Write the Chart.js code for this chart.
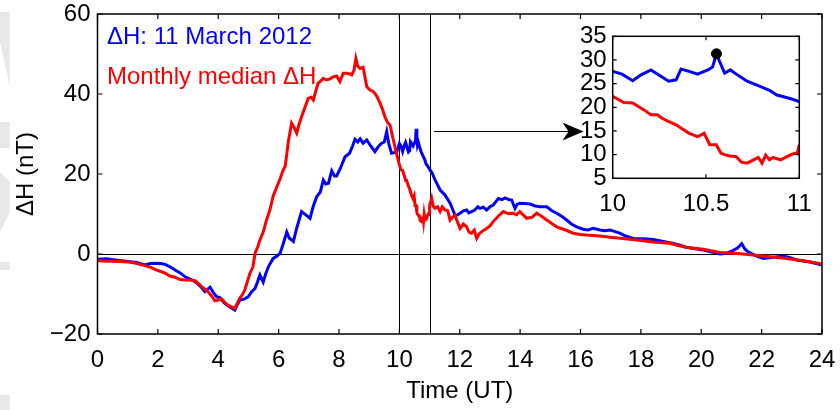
<!DOCTYPE html>
<html><head><meta charset="utf-8">
<script src="https://cdn.jsdelivr.net/npm/chart.js@4.4.0/dist/chart.umd.min.js"></script>
<style>
html,body{margin:0;padding:0;background:#fff;overflow:hidden}
#wrap{position:relative;width:840px;height:410px}
#main{position:absolute;left:0;top:0}
#inset{position:absolute;left:560px;top:15px}
</style></head><body>
<div id="wrap"><canvas id="main" width="840" height="410"></canvas><canvas id="inset" width="260" height="205"></canvas></div>
<script>
// ---- Data (hours UT, nT) ----
const blueT=[0,0.3,0.58,1.02,1.3,1.57,1.75,1.9,2.1,2.24,2.4,2.57,2.75,2.9,3.05,3.23,3.4,3.56,3.65,3.73,3.85,3.95,4.05,4.11,4.2,4.28,4.4,4.55,4.62,4.72,4.85,4.99,5.1,5.22,5.3,5.38,5.49,5.57,5.66,5.75,5.82,5.95,6.05,6.15,6.27,6.35,6.43,6.49,6.6,6.76,6.9,7.04,7.15,7.26,7.38,7.48,7.56,7.65,7.76,7.85,7.92,8.05,8.2,8.35,8.45,8.53,8.62,8.7,8.8,8.92,9.05,9.19,9.3,9.41,9.5,9.58,9.65,9.74,9.85,9.92,10.0,10.05,10.107,10.15,10.205,10.26,10.3,10.34,10.366,10.41,10.455,10.51,10.535,10.556,10.58,10.6,10.63,10.67,10.72,10.79,10.84,10.88,10.955,11.0,11.1,11.18,11.35,11.51,11.68,11.84,11.93,12.01,12.12,12.23,12.3,12.39,12.5,12.6,12.67,12.78,12.89,13.0,13.11,13.28,13.4,13.5,13.62,13.72,13.83,13.9,13.99,14.15,14.33,14.5,14.66,14.88,15.05,15.21,15.4,15.54,15.7,15.87,16.09,16.25,16.42,16.64,16.8,16.98,17.15,17.3,17.5,17.75,18.1,18.41,18.7,18.96,19.25,19.5,19.8,20.07,20.35,20.62,20.85,21.06,21.2,21.34,21.45,21.56,21.8,22.05,22.4,22.72,22.95,23.16,23.6,24.0];
const blueH=[-1.3,-1.2,-1.5,-1.9,-2.1,-2.75,-2.4,-2.3,-2.4,-2.6,-3.2,-4,-4.8,-5.7,-6.2,-6.9,-8,-9.4,-8.8,-8.3,-9.8,-10.7,-10.9,-11.5,-12.2,-12.75,-13.3,-14,-12.8,-11.5,-11.3,-10.7,-9.5,-8.6,-7.0,-5.25,-7.0,-5.0,-3.2,-2.0,-1.1,-0.5,0.2,2.5,5.5,4.0,3.5,3.1,6.5,10.6,9.8,8.9,12.0,14.3,15.5,18.5,17.5,17.7,20.8,19.5,19.5,21.5,24.3,25.2,27.0,28.7,28.0,28.8,27.7,28.5,27.0,25.6,26.8,27.7,28.0,30.6,27.5,25.2,25.4,25.7,27.6,27.0,25.6,26.8,27.9,26.5,25.5,25.8,28.1,27.6,27.0,27.9,28.5,31.3,29.0,27.2,27.9,26.8,25.5,24.4,23.6,22.6,21.8,21.2,20.0,18.5,16.0,14.75,12.7,9.75,9.8,10.2,10.8,11.0,10.3,10.6,11.0,11.8,11.4,11.7,11.0,11.8,12.25,13.9,13.6,14.0,13.6,13.5,11.4,12.4,12.7,12.6,12.5,12.0,11.8,11.8,10.8,10.2,9.3,8.5,7.5,6.8,6.2,6.0,6.4,6.0,5.8,6.0,5.6,5.2,4.5,3.9,3.8,3.6,3.2,2.8,2.3,1.7,1.3,1.0,0.5,0.0,0.2,0.9,1.5,2.6,1.2,0.5,-0.4,-1.1,-0.8,-0.5,-0.9,-1.5,-2.0,-2.75];
const redT=[0,0.4,0.74,1.02,1.2,1.57,1.75,1.96,2.24,2.4,2.57,2.73,2.9,3.05,3.23,3.35,3.45,3.58,3.67,3.78,3.89,4.0,4.11,4.2,4.32,4.45,4.55,4.62,4.71,4.8,4.88,4.96,5.05,5.15,5.22,5.31,5.38,5.49,5.6,5.71,5.82,5.94,6.05,6.15,6.22,6.32,6.43,6.52,6.6,6.68,6.76,6.88,6.98,7.08,7.15,7.24,7.31,7.4,7.48,7.59,7.7,7.81,7.92,8.03,8.14,8.25,8.36,8.42,8.5,8.56,8.62,8.7,8.8,8.92,9.03,9.14,9.25,9.36,9.45,9.52,9.6,9.69,9.8,9.9,10.0,10.06,10.107,10.17,10.205,10.24,10.26,10.295,10.34,10.37,10.41,10.455,10.49,10.52,10.555,10.58,10.6,10.625,10.66,10.69,10.72,10.76,10.78,10.8,10.82,10.84,10.86,10.9,10.95,10.97,10.99,11.0,11.07,11.12,11.18,11.27,11.35,11.42,11.51,11.6,11.68,11.76,11.84,11.93,12.01,12.12,12.23,12.31,12.39,12.48,12.56,12.64,12.73,12.89,13.0,13.11,13.28,13.44,13.6,13.77,13.88,13.99,14.1,14.22,14.4,14.55,14.7,14.88,15.05,15.21,15.5,15.76,16.0,16.2,16.64,16.98,17.4,17.86,18.4,18.96,19.2,19.5,20.07,20.62,21.2,21.72,22.3,22.83,23.4,24.0];
const redH=[-1.7,-1.8,-1.9,-2.0,-2.2,-2.9,-3.3,-4.0,-4.8,-5.5,-5.8,-6.4,-6.5,-6.5,-6.7,-7.4,-8.2,-8.9,-9.5,-10.5,-11.7,-11.5,-11.2,-12.0,-12.8,-13.2,-13.6,-12.5,-11.1,-10.2,-9.0,-7.0,-4.8,-3.2,0.2,1.8,3.5,5.5,8.5,11.0,14.5,16.8,18.8,21.0,22.0,28.0,32.7,31.5,30.2,32.5,34.3,36.8,38.9,39.2,38.5,41.0,42.7,43.3,43.9,43.5,43.8,44.3,44.5,43.1,45.2,45.2,45.0,44.75,46.0,48.9,47.0,46.4,46.7,41.8,41.0,40.6,39.5,37.7,36.0,34.3,33.0,32.2,28.5,25.3,22.3,21.0,20.9,19.4,18.4,18.4,17.8,17.1,16.3,15.5,14.5,13.8,14.5,12.1,12.1,10.3,10.0,9.7,9.6,8.4,8.2,9.0,9.4,8.2,9.9,8.9,9.4,8.9,9.9,10.2,10.4,12.1,13.9,12.0,11.4,11.8,10.6,11.8,11.0,10.8,8.5,9.2,9.75,7.9,6.4,7.5,6.8,5.4,5.2,6.0,3.9,5.0,5.6,6.4,7.0,8.1,9.5,10.6,10.1,10.2,9.8,10.6,9.8,8.9,9.2,10.2,9.5,8.5,7.6,6.8,6.0,5.2,4.9,4.75,4.5,4.2,3.9,3.5,3.0,2.7,2.2,1.7,1.2,0.4,0.1,-0.25,-0.7,-1.1,-1.7,-2.5];
const seriesNames=['ΔH: 11 March 2012','Monthly median ΔH'];
const mainXTicks=[0,2,4,6,8,10,12,14,16,18,20,22,24];
const mainYTicks=[-20,0,20,40,60];
const markTimes=[10,11];          // zoom window edges
const insetXTicks=[10,10.5,11];
const insetYTicks=[5,10,15,20,25,30,35];
const peakT=[10.556], peakH=[31.3];
const arrowT=[11.15,16.1], arrowH=[30.75,30.75];

const FONT='"Liberation Sans", Arial, Helvetica, sans-serif';
const BLUE='#0000ff', RED='#ff0000';
const pts=(t,h)=>t.map((v,i)=>({x:v,y:h[i]}));
const minus=v=>String(v).replace('-', '\u2212');
const noPadX=(h)=>function(s){s.height=h;s.paddingLeft=0;s.paddingRight=0;};
const noPadY=(w)=>function(s){s.width=w;s.paddingTop=0;s.paddingBottom=0;};

function drawFrameTicks(ctx,a,xs,ys,xt,yt,len){
  ctx.save();
  ctx.strokeStyle='#000'; ctx.lineWidth=1.5;
  ctx.strokeRect(a.left,a.top,a.right-a.left,a.bottom-a.top);
  ctx.lineWidth=1.2; ctx.beginPath();
  xt.forEach(v=>{const p=xs.getPixelForValue(v);
    ctx.moveTo(p,a.bottom); ctx.lineTo(p,a.bottom-len);
    ctx.moveTo(p,a.top); ctx.lineTo(p,a.top+len);});
  yt.forEach(v=>{const p=ys.getPixelForValue(v);
    ctx.moveTo(a.left,p); ctx.lineTo(a.left+len,p);
    ctx.moveTo(a.right,p); ctx.lineTo(a.right-len,p);});
  ctx.stroke(); ctx.restore();
}

const mainDeco={
  id:'mainDeco',
  beforeDraw(chart){
    const c=chart.ctx; c.save();
    c.fillStyle='#fff'; c.fillRect(0,0,chart.width,chart.height);
    c.fillStyle='#e8e8e8';
    c.beginPath(); c.moveTo(0,12); c.lineTo(10,12); c.lineTo(10,87); c.lineTo(0,42); c.closePath(); c.fill();
    c.fillRect(0,122,10,26);
    c.beginPath(); c.moveTo(0,172); c.lineTo(10,182); c.lineTo(10,212); c.lineTo(0,232); c.closePath(); c.fill();
    c.fillRect(0,262,10,8);
    c.fillRect(0,395,10,15);
    c.restore();
  },
  beforeDatasetsDraw(chart){
    const {ctx,chartArea:a,scales:{x,y}}=chart;
    ctx.save(); ctx.strokeStyle='#000'; ctx.lineWidth=1; ctx.beginPath();
    const y0=Math.round(y.getPixelForValue(0))+0.5;
    ctx.moveTo(a.left,y0); ctx.lineTo(a.right,y0);
    markTimes.forEach(t=>{const p=Math.round(x.getPixelForValue(t))+0.5; ctx.moveTo(p,a.top); ctx.lineTo(p,a.bottom);});
    ctx.stroke(); ctx.restore();
  },
  afterDatasetsDraw(chart){
    const {ctx,chartArea:a,scales:{x,y}}=chart;
    drawFrameTicks(ctx,a,x,y,mainXTicks,mainYTicks,5);
    // arrow
    const x1=x.getPixelForValue(arrowT[0]), x2=x.getPixelForValue(arrowT[1]);
    const ya=Math.round(y.getPixelForValue(arrowH[0]))+0.5;
    ctx.save(); ctx.strokeStyle='#000'; ctx.fillStyle='#000'; ctx.lineWidth=1;
    ctx.beginPath(); ctx.moveTo(x1,ya); ctx.lineTo(x2-12,ya); ctx.stroke();
    ctx.beginPath(); ctx.moveTo(x2,ya); ctx.lineTo(x2-21,ya-9); ctx.lineTo(x2-15,ya); ctx.lineTo(x2-21,ya+9); ctx.closePath(); ctx.fill();
    // legend texts
    ctx.font='24px '+FONT; ctx.textBaseline='alphabetic'; ctx.textAlign='left';
    ctx.fillStyle=BLUE; ctx.fillText(seriesNames[0],a.left+9.5,a.top+29.5);
    ctx.fillStyle=RED; ctx.fillText(seriesNames[1],a.left+9.5,a.top+69.5);
    ctx.restore();
  }
};

new Chart(document.getElementById('main'),{
  type:'line',
  data:{datasets:[
    {label:seriesNames[1],data:pts(redT,redH),borderColor:RED,borderWidth:3,pointRadius:0,tension:0,fill:false},
    {label:seriesNames[0],data:pts(blueT,blueH),borderColor:BLUE,borderWidth:3,pointRadius:0,tension:0,fill:false}
  ]},
  options:{
    responsive:false,animation:false,devicePixelRatio:1,
    layout:{padding:{top:14,right:18,left:0,bottom:0}},
    plugins:{legend:{display:false},tooltip:{enabled:false}},
    scales:{
      x:{type:'linear',min:0,max:24,
        afterBuildTicks(s){s.ticks=mainXTicks.map(v=>({value:v}));},
        afterFit:noPadX(76),
        grid:{display:false,drawTicks:false},border:{display:false},
        ticks:{color:'#000',font:{family:FONT,size:24,lineHeight:1},padding:14,maxRotation:0,autoSkip:false,callback:v=>String(v)},
        title:{display:true,text:'Time (UT)',color:'#000',font:{family:FONT,size:24,lineHeight:1.2},padding:{top:4,bottom:4}}
      },
      y:{type:'linear',min:-20,max:60,
        afterBuildTicks(s){s.ticks=mainYTicks.map(v=>({value:v}));},
        afterFit:noPadY(97.5),
        grid:{display:false,drawTicks:false},border:{display:false},
        ticks:{color:'#000',font:{family:FONT,size:24,lineHeight:1},padding:7,callback:v=>minus(v)},
        title:{display:true,text:'ΔH (nT)',color:'#000',font:{family:FONT,size:24,lineHeight:1.2},padding:{top:12,bottom:12}}
      }
    }
  },
  plugins:[mainDeco]
});

const insetDeco={
  id:'insetDeco',
  afterDatasetsDraw(chart){
    const {ctx,chartArea:a,scales:{x,y}}=chart;
    drawFrameTicks(ctx,a,x,y,insetXTicks,insetYTicks,4);
  }
};

new Chart(document.getElementById('inset'),{
  type:'line',
  data:{datasets:[
    {data:pts(peakT,peakH),borderColor:'#000',backgroundColor:'#000',pointRadius:5,showLine:false},
    {data:pts(blueT,blueH),borderColor:BLUE,borderWidth:3,pointRadius:0,tension:0,fill:false},
    {data:pts(redT,redH),borderColor:RED,borderWidth:3,pointRadius:0,tension:0,fill:false}
  ]},
  options:{
    responsive:false,animation:false,devicePixelRatio:1,
    layout:{padding:{top:21.3,right:20.7,left:0,bottom:0}},
    plugins:{legend:{display:false},tooltip:{enabled:false}},
    scales:{
      x:{type:'linear',min:10,max:11,
        afterBuildTicks(s){s.ticks=insetXTicks.map(v=>({value:v}));},
        afterFit:noPadX(41.7),
        grid:{display:false,drawTicks:false},border:{display:false},
        ticks:{color:'#000',font:{family:FONT,size:24,lineHeight:1},padding:14,maxRotation:0,autoSkip:false,callback:v=>String(v)}
      },
      y:{type:'linear',min:5,max:35,
        afterBuildTicks(s){s.ticks=insetYTicks.map(v=>({value:v}));},
        afterFit:noPadY(52.7),
        grid:{display:false,drawTicks:false},border:{display:false},
        ticks:{color:'#000',font:{family:FONT,size:24,lineHeight:1},padding:6,autoSkip:false,callback:v=>String(v)}
      }
    }
  },
  plugins:[insetDeco]
});
</script>
</body></html>
